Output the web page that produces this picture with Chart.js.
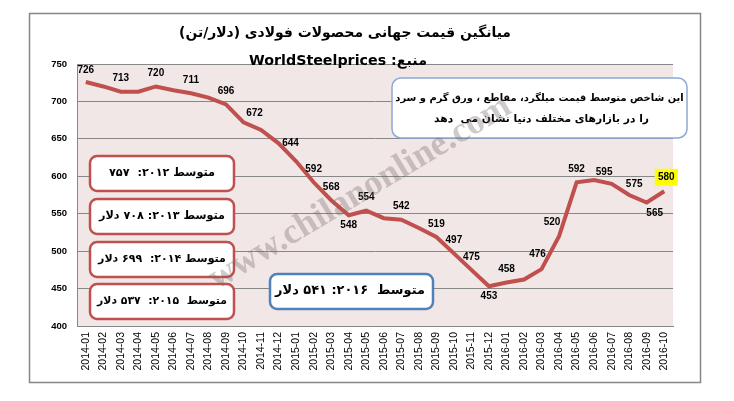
<!DOCTYPE html>
<html>
<head>
<meta charset="utf-8">
<script src="https://cdn.jsdelivr.net/npm/chart.js@4.4.0/dist/chart.umd.min.js"></script>
<style>
  html, body { margin: 0; padding: 0; background: #fff; }
  #wrap { width: 734px; height: 401px; }
</style>
</head>
<body>
<div id="wrap"><canvas id="steelChart"></canvas></div>
<script>
// داده‌ها
const months = [
    '2014-01', '2014-02', '2014-03', '2014-04', '2014-05', '2014-06', '2014-07', '2014-08', '2014-09', '2014-10', '2014-11', '2014-12',
    '2015-01', '2015-02', '2015-03', '2015-04', '2015-05', '2015-06', '2015-07', '2015-08', '2015-09', '2015-10', '2015-11', '2015-12',
    '2016-01', '2016-02', '2016-03', '2016-04', '2016-05', '2016-06', '2016-07', '2016-08', '2016-09', '2016-10'
];
const prices = [
    726, 720, 713, 713, 720, 715, 711, 705, 696, 672, 662, 644,
    620, 592, 568, 548, 554, 544, 542, 531, 519, 497, 475, 453,
    458, 462, 476, 520, 592, 595, 590, 575, 565, 580
];
// ماه‌هایی که عددشان روی نمودار نوشته شده
const labeledMonths = [
    '2014-01', '2014-03', '2014-05', '2014-07', '2014-09', '2014-10', '2014-12',
    '2015-02', '2015-03', '2015-04', '2015-05', '2015-07', '2015-09', '2015-10', '2015-11', '2015-12',
    '2016-01', '2016-03', '2016-04', '2016-05', '2016-06', '2016-08', '2016-09', '2016-10'
];
const highlightMonth = '2016-10';
const yMin = 400;
const yMax = 750;
const yStep = 50;

const titleText = 'میانگین قیمت جهانی محصولات فولادی (دلار/تن)';
const sourceText = 'منبع: WorldSteelprices';
const noteLines = ['این شاخص متوسط قیمت میلگرد، مقاطع ، ورق گرم و سرد', 'را در بازارهای مختلف دنیا نشان می  دهد'];
const yearlyAverages = ['متوسط ۲۰۱۲:  ۷۵۷', 'متوسط ۲۰۱۳: ۷۰۸ دلار', 'متوسط ۲۰۱۴:  ۶۹۹ دلار', 'متوسط  ۲۰۱۵:  ۵۳۷ دلار'];
const average2016 = 'متوسط  ۲۰۱۶: ۵۴۱ دلار';
const watermark = 'www.chilanonline.com';

// جابجایی برچسب‌ها نسبت به نقطه (پیش‌فرض: بالای نقطه)
const labelNudge = {
    0: [0, -12], 9: [11, -9], 11: [12, 0], 15: [0, 10], 23: [0, 10],
    26: [-4, -15], 27: [-7, -14], 29: [10, -8], 31: [5, -11], 32: [8, 11], 33: [2, -14]
};

const persianFont = '"DejaVu Sans"';

function fitFont(ctx, text, width, maxSize) {
    ctx.font = 'bold 20px ' + persianFont;
    const w = ctx.measureText(text).width;
    const size = Math.min(maxSize, 20 * width / w);
    ctx.font = 'bold ' + size.toFixed(2) + 'px ' + persianFont;
}

function rtlText(ctx, text, cx, cy, width, maxSize) {
    ctx.save();
    ctx.direction = 'rtl';
    ctx.textAlign = 'center';
    ctx.textBaseline = 'middle';
    ctx.fillStyle = '#000';
    fitFont(ctx, text, width, maxSize);
    ctx.fillText(text, cx, cy);
    ctx.restore();
}

function roundBox(ctx, x, y, w, h, r, color, lw) {
    ctx.save();
    ctx.beginPath();
    ctx.roundRect(x, y, w, h, r);
    ctx.fillStyle = '#fff';
    ctx.fill();
    ctx.lineWidth = lw;
    ctx.strokeStyle = color;
    ctx.stroke();
    ctx.restore();
}

const decorPlugin = {
    id: 'decor',
    beforeDraw(chart) {
        const { ctx, chartArea } = chart;
        ctx.save();
        ctx.fillStyle = '#fff';
        ctx.fillRect(0, 0, chart.width, chart.height);
        ctx.strokeStyle = '#868686';
        ctx.lineWidth = 1.5;
        ctx.strokeRect(29.5, 13.5, 671, 369);
        ctx.fillStyle = '#F2E7E7';
        ctx.fillRect(chartArea.left, chartArea.top, chartArea.right - chartArea.left, chartArea.bottom - chartArea.top);
        ctx.restore();
    },
    afterDatasetsDraw(chart) {
        const ctx = chart.ctx;
        // عنوان
        rtlText(ctx, titleText, 345, 33, 332, 19);
        rtlText(ctx, sourceText, 338, 61, 178, 17);

        // کادر توضیح
        roundBox(ctx, 392, 78, 295, 60, 9, '#8DA8D6', 1.5);
        rtlText(ctx, noteLines[0], 539.5, 98, 289, 14);
        rtlText(ctx, noteLines[1], 541.5, 119, 215, 14);

        // میانگین‌های سالانه
        const boxTops = [156, 199, 242, 284];
        const textWidths = [106, 126, 128, 130];
        yearlyAverages.forEach((t, i) => {
            roundBox(ctx, 90, boxTops[i], 144, 35, 7, '#C0504D', 2.5);
            rtlText(ctx, t, 162, boxTops[i] + 17.5, textWidths[i], 16);
        });
        roundBox(ctx, 270, 274, 163, 35, 7, '#4F81BD', 2.5);
        rtlText(ctx, average2016, 350, 291, 150, 16);

        // برچسب مقادیر
        const meta = chart.getDatasetMeta(0);
        ctx.save();
        ctx.font = 'bold 10px "Liberation Sans"';
        ctx.textAlign = 'center';
        ctx.textBaseline = 'middle';
        months.forEach((m, i) => {
            if (!labeledMonths.includes(m)) return;
            const pt = meta.data[i];
            const [dx, dy] = labelNudge[i] || [0, -13];
            const x = pt.x + dx;
            const y = pt.y + dy;
            if (m === highlightMonth) {
                ctx.fillStyle = '#FFFF00';
                ctx.fillRect(x - 11.5, y - 8.5, 23, 17);
            }
            ctx.fillStyle = '#000';
            ctx.fillText(String(prices[i]), x, y);
        });
        ctx.restore();
    },
    afterDraw(chart) {
        const ctx = chart.ctx;
        ctx.save();
        ctx.translate(360, 193);
        ctx.rotate(-31 * Math.PI / 180);
        ctx.font = 'bold 36px "Liberation Serif"';
        ctx.textAlign = 'center';
        ctx.textBaseline = 'middle';
        ctx.fillStyle = 'rgba(120, 105, 105, 0.35)';
        ctx.fillText(watermark, 0, 0);
        ctx.restore();
    }
};

const ctx = document.getElementById('steelChart').getContext('2d');

const steelChart = new Chart(ctx, {
    type: 'line',
    data: {
        labels: months,
        datasets: [{
            data: prices,
            borderColor: '#C0504D',
            borderWidth: 4,
            pointRadius: 0,
            pointHoverRadius: 0,
            tension: 0,
            fill: false
        }]
    },
    options: {
        responsive: true,
        maintainAspectRatio: false,
        animation: false,
        layout: {
            padding: { left: 40, right: 61, top: 64, bottom: 0 }
        },
        plugins: {
            legend: { display: false },
            title: { display: false },
            tooltip: { enabled: false }
        },
        scales: {
            y: {
                min: yMin,
                max: yMax,
                afterFit(scale) { scale.width = 37; },
                ticks: {
                    stepSize: yStep,
                    padding: 10,
                    color: '#000',
                    font: { family: 'Liberation Sans', size: 9.5, weight: 'bold' }
                },
                grid: { color: '#878787', lineWidth: 1, drawTicks: false },
                border: { display: true, color: '#878787', width: 1 }
            },
            x: {
                offset: true,
                afterFit(scale) { scale.height = 75; },
                ticks: {
                    autoSkip: false,
                    maxRotation: 90,
                    minRotation: 90,
                    padding: 6,
                    color: '#000',
                    font: { family: 'Liberation Sans', size: 10.5 }
                },
                grid: { display: false, drawTicks: false },
                border: { display: true, color: '#878787', width: 1 }
            }
        }
    },
    plugins: [decorPlugin]
});
</script>
</body>
</html>
